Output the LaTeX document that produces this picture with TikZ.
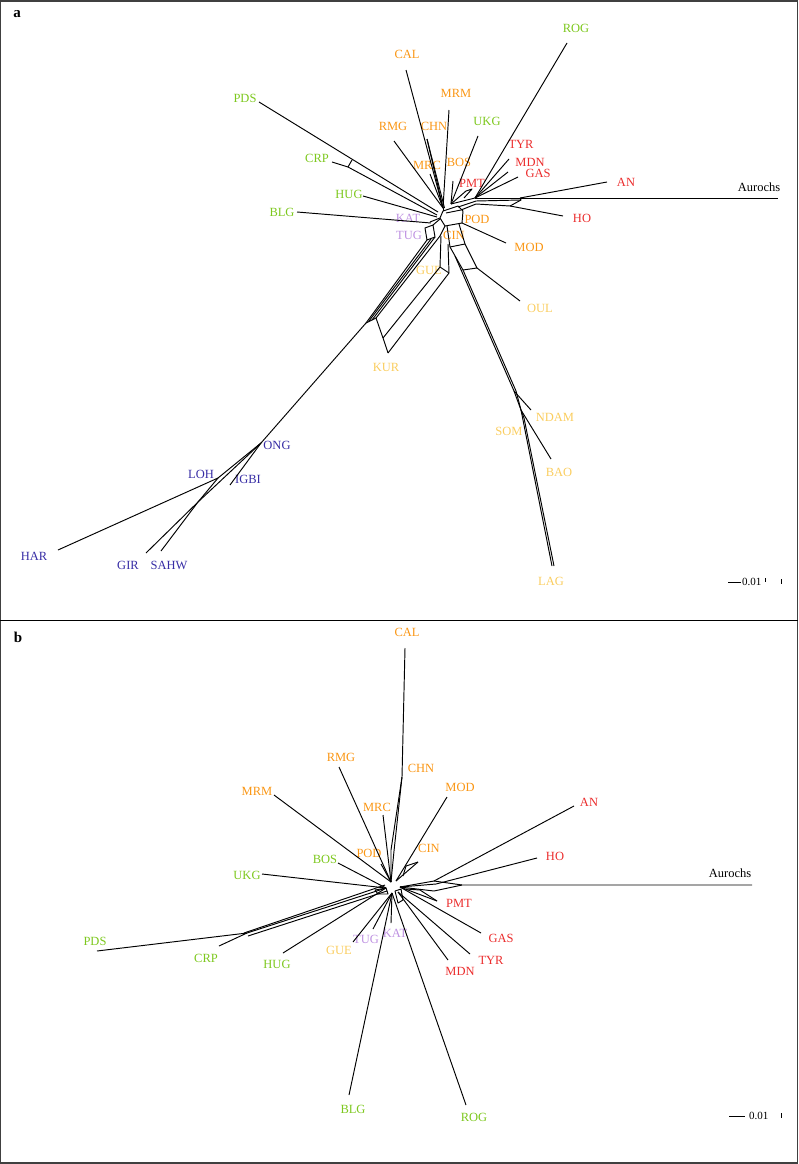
\documentclass[tikz,border=0pt]{standalone}
\usepackage{fontspec}
\setmainfont{Liberation Serif}
\usetikzlibrary{positioning}

\definecolor{taurgreen}{RGB}{125,200,30}
\definecolor{taurorange}{RGB}{250,150,20}
\definecolor{taurred}{RGB}{235,45,45}
\definecolor{taurlilac}{RGB}{190,145,225}
\definecolor{zebugold}{RGB}{250,205,95}
\definecolor{zebublue}{RGB}{55,45,165}

\begin{document}
\begin{tikzpicture}[x=1pt, y=-1pt,
    br/.style={line width=0.95pt, line join=round},
    lab/.style={font=\fontsize{12.5}{14}\selectfont, inner sep=0pt},
    grn/.style={lab, text=taurgreen},
    org/.style={lab, text=taurorange},
    rd/.style={lab, text=taurred},
    lil/.style={lab, text=taurlilac},
    gld/.style={lab, text=zebugold},
    blu/.style={lab, text=zebublue},
    tag/.style={font=\bfseries\fontsize{15}{16}\selectfont, inner sep=0pt},
    scl/.style={font=\fontsize{11}{12}\selectfont, inner sep=0pt}]
    \useasboundingbox (0,0) rectangle (799,1164);

    % Frame and panel divider
    \draw[line width=1.4pt, black!75] (0.7,1.2) rectangle (797.6,1162.8);
    \draw[line width=1pt] (0,620) -- (798,620);

    % ================= Panel a =================
    \node[tag] (tagA) at (17,14) {a};

    % Labels
    \node[grn] (aROG) at (576,28) {ROG};
    \node[org] (aCAL) at (407,54) {CAL};
    \node[org] (aMRM) at (456,93) {MRM};
    \node[grn] (aPDS) at (245,98) {PDS};
    \node[grn] (aUKG) at (487,121) {UKG};
    \node[org] (aRMG) at (393,126) {RMG};
    \node[org] (aCHN) at (434,126) {CHN};
    \node[rd]  (aTYR) at (521,144) {TYR};
    \node[grn] (aCRP) at (317,158) {CRP};
    \node[org] (aMRC) at (427,165) {MRC};
    \node[org] (aBOS) at (459,162) {BOS};
    \node[rd]  (aMDN) at (530,162) {MDN};
    \node[rd]  (aGAS) at (538,173) {GAS};
    \node[rd]  (aPMT) at (472,183) {PMT};
    \node[rd]  (aAN) at (626,182) {AN};
    \node[lab] (aAUR) at (759,187) {Aurochs};
    \node[grn] (aHUG) at (349,194) {HUG};
    \node[grn] (aBLG) at (282,212) {BLG};
    \node[rd]  (aHO) at (582,218) {HO};
    \node[lil] (aKAT) at (408,218) {KAT};
    \node[org] (aPOD) at (477,219) {POD};
    \node[lil] (aTUG) at (409,235) {TUG};
    \node[org] (aCIN) at (454,235) {CIN};
    \node[org] (aMOD) at (529,247) {MOD};
    \node[gld] (aGUE) at (429,270) {GUE};
    \node[gld] (aOUL) at (540,308) {OUL};
    \node[gld] (aKUR) at (386,367) {KUR};
    \node[gld] (aNDAM) at (555,417) {NDAM};
    \node[gld] (aSOM) at (509,431) {SOM};
    \node[blu] (aONG) at (277,445) {ONG};
    \node[gld] (aBAO) at (559,472) {BAO};
    \node[blu] (aLOH) at (201,474) {LOH};
    \node[blu] (aIGBI) at (248,479) {IGBI};
    \node[blu] (aHAR) at (34,556) {HAR};
    \node[blu] (aGIR) at (128,565) {GIR};
    \node[blu] (aSAHW) at (169,565) {SAHW};
    \node[gld] (aLAG) at (551,581) {LAG};

    % Junctions
    \coordinate (aHub) at (443,208);
    \coordinate (aHubR) at (451,204);
    \coordinate (aTopR) at (475,198);
    \coordinate (aANj) at (520,198);
    \coordinate (aHOj) at (510,206);
    \coordinate (aCRPj) at (348,167);
    \coordinate (aZj) at (366,323);
    \coordinate (aKURj) at (376,318);
    \coordinate (aSOMj) at (514,391);
    \coordinate (aONGj) at (261,443);
    \coordinate (aLOHj) at (218,478);
    \coordinate (aSj) at (198,502);

    % Tips
    \coordinate (aCALt) at (406,70);
    \coordinate (aCHNt) at (427,139);
    \coordinate (aMRMt) at (449,110);
    \coordinate (aRMGt) at (394,141);
    \coordinate (aMRCt) at (430,174);
    \coordinate (aBOSt) at (453,181);
    \coordinate (aUKGt) at (478,136);
    \coordinate (aPMTt) at (466,191);
    \coordinate (aROGt) at (567,43);
    \coordinate (aTYRt) at (509,159);
    \coordinate (aMDNt) at (508,172);
    \coordinate (aGASt) at (518,177);
    \coordinate (aANt) at (607,182);
    \coordinate (aAURt) at (778,198);
    \coordinate (aHOt) at (563,216);
    \coordinate (aMODt) at (506,243);
    \coordinate (aPDSt) at (259,102);
    \coordinate (aCRPt) at (332,162);
    \coordinate (aHUGt) at (363,196);
    \coordinate (aBLGt) at (297,212);
    \coordinate (aKATt) at (430,222);
    \coordinate (aOULt) at (520,301);
    \coordinate (aKURt) at (388,353);
    \coordinate (aNDAMt) at (531,410);
    \coordinate (aBAOt) at (551,459);
    \coordinate (aLAGt) at (554,566);
    \coordinate (aHARt) at (58,550);
    \coordinate (aGIRt) at (146,553);
    \coordinate (aSAHWt) at (161,551);
    \coordinate (aIGBIt) at (230,485);

    % Upper fan
    \draw[br] (aCALt) -- (aHub);
    \draw[br] (aCHNt) -- (aHub);
    \draw[br] (aCHNt) -- ([xshift=1.5pt]aHub);
    \draw[br] (aMRMt) -- (aHub);
    \draw[br] (aRMGt) -- (aHub);
    \draw[br] (aMRCt) -- (aHub);
    \draw[br] (aBOSt) -- (aHubR);
    \draw[br] (aUKGt) -- (aHubR);
    \draw[br] (aPMTt) -- (aHubR);
    \draw[br] (aPMTt) -- (472,189) -- (464,198);
    \draw[br] (aROGt) -- (aTopR);
    \draw[br] (aTYRt) -- (aTopR);
    \draw[br] (aMDNt) -- (aTopR);
    \draw[br] (aGASt) -- (aTopR);
    \draw[br] (aHubR) -- (aTopR);
    \draw[br] (458,207) -- (476,201);
    \draw[br] (461,210) -- (476,204);

    % Right band: AN, Aurochs, HO
    \draw[br] (aTopR) -- (aAURt);
    \draw[br] (476,201) -- (521,200);
    \draw[br] (476,204) -- (aHOj);
    \draw[br] (aHOj) -- (521,200) -- (aANj);
    \draw[br] (aANj) -- (aANt);
    \draw[br] (aHOj) -- (aHOt);

    % Central box
    \draw[br] (443,211) -- (458,206) -- (463,211) -- (462,223) -- (445,226) -- (440,218) -- cycle;
    \draw[br] (446,213) -- (461,210);
    \draw[br] (aHub) -- (443,211);
    \draw[br] (462,223) -- (aMODt);
    \draw[br] (aKATt) -- (440,218);

    % Left fan
    \draw[br] (aPDSt) -- (438,212);
    \draw[br] (aCRPt) -- (aCRPj) -- (437,215);
    \draw[br] (aCRPj) -- (352,160);
    \draw[br] (aHUGt) -- (437,217);
    \draw[br] (aBLGt) -- (431,223);

    % TUG box and zebu bundle
    \draw[br] (425,228) -- (433,225) -- (435,237) -- (427,240) -- cycle;
    \draw[br] (433,225) -- (440,219);
    \draw[br] (427,240) -- (aZj);
    \draw[br] (431,239) -- (369,321);
    \draw[br] (435,237) -- (372,320);
    \draw[br] (445,226) -- (440,236) -- (aKURj);
    \draw[br] (aZj) -- (aKURj);

    % KUR box
    \draw[br] (aKURj) -- (383,338) -- (aKURt);
    \draw[br] (383,338) -- (440,267) -- (441,236);
    \draw[br] (aKURt) -- (449,273) -- (448,244);
    \draw[br] (440,267) -- (449,273);

    % OUL box
    \draw[br] (447,226) -- (450,247) -- (463,270) -- (477,268) -- (465,244) -- (459,224);
    \draw[br] (450,247) -- (465,244);
    \draw[br] (477,268) -- (aOULt);

    % Southern branch to SOM, NDAM, BAO, LAG
    \draw[br] (455,256) -- (aSOMj);
    \draw[br] (463,270) -- (516,391);
    \draw[br] (aSOMj) -- (aNDAMt);
    \draw[br] (aSOMj) -- (521,410) -- (aBAOt);
    \draw[br] (516,391) -- (521,410) -- (524,418) -- (aLAGt);
    \draw[br] (521,410) -- (552,566);

    % African zebu
    \draw[br] (aZj) -- (aONGj);
    \draw[br] (aONGj) -- (aLOHj) -- (aHARt);
    \draw[br] (aONGj) -- (aIGBIt);
    \draw[br] (aONGj) -- (aSj);
    \draw[br] (aLOHj) -- (aSj);
    \draw[br] (aSj) -- (aGIRt);
    \draw[br] (aSj) -- (aSAHWt);

    % Scale bar a
    \coordinate (aBarL) at (728,582);
    \coordinate (aBarR) at (741,582);
    \draw[br] (aBarL) -- (aBarR);
    \node[scl, right=1pt of aBarR] (aBarTxt) {0.01};
    \draw[br] (765,578) -- (765,582);
    \draw[br] (781,579) -- (781,584);

    % ================= Panel b =================
    \node[tag] (tagB) at (18,637) {b};

    % Labels
    \node[org] (bCAL) at (407,632) {CAL};
    \node[org] (bRMG) at (341,757) {RMG};
    \node[org] (bCHN) at (421,768) {CHN};
    \node[org] (bMOD) at (460,787) {MOD};
    \node[org] (bMRM) at (257,791) {MRM};
    \node[rd]  (bAN) at (589,802) {AN};
    \node[org] (bMRC) at (377,807) {MRC};
    \node[org] (bCIN) at (429,848) {CIN};
    \node[org] (bPOD) at (369,853) {POD};
    \node[rd]  (bHO) at (555,856) {HO};
    \node[grn] (bBOS) at (325,859) {BOS};
    \node[lab] (bAUR) at (730,873) {Aurochs};
    \node[grn] (bUKG) at (247,875) {UKG};
    \node[rd]  (bPMT) at (459,903) {PMT};
    \node[lil] (bKAT) at (395,933) {KAT};
    \node[rd]  (bGAS) at (501,938) {GAS};
    \node[lil] (bTUG) at (366,939) {TUG};
    \node[grn] (bPDS) at (95,941) {PDS};
    \node[gld] (bGUE) at (339,950) {GUE};
    \node[grn] (bCRP) at (206,958) {CRP};
    \node[rd]  (bTYR) at (491,960) {TYR};
    \node[grn] (bHUG) at (277,964) {HUG};
    \node[rd]  (bMDN) at (460,971) {MDN};
    \node[grn] (bBLG) at (353,1109) {BLG};
    \node[grn] (bROG) at (474,1117) {ROG};

    % Junctions
    \coordinate (bHubN) at (391,882);
    \coordinate (bHubNE) at (396,881);
    \coordinate (bHubE) at (400,887);
    \coordinate (bHubSE) at (398,892);
    \coordinate (bHubS) at (392,893);
    \coordinate (bHubW) at (386,888);
    \coordinate (bANj) at (434,881);
    \coordinate (bHOj) at (436,884);
    \coordinate (bAURj) at (462,885);
    \coordinate (bPDSj) at (247,933);

    % Tips
    \coordinate (bCALt) at (405,648);
    \coordinate (bCHNt) at (402,777);
    \coordinate (bRMGt) at (339,767);
    \coordinate (bMRMt) at (274,795);
    \coordinate (bMRCt) at (383,815);
    \coordinate (bPODt) at (381,864);
    \coordinate (bMODt) at (447,797);
    \coordinate (bCINt) at (418,862);
    \coordinate (bANt) at (574,806);
    \coordinate (bHOt) at (537,858);
    \coordinate (bAURt) at (752,885);
    \coordinate (bPMTt) at (437,901);
    \coordinate (bGASt) at (481,933);
    \coordinate (bTYRt) at (470,954);
    \coordinate (bMDNt) at (448,960);
    \coordinate (bROGt) at (466,1105);
    \coordinate (bKATt) at (391,923);
    \coordinate (bBLGt) at (349,1095);
    \coordinate (bTUGt) at (373,929);
    \coordinate (bGUEt) at (353,942);
    \coordinate (bHUGt) at (283,953);
    \coordinate (bCRPt) at (219,946);
    \coordinate (bPDSt) at (97,951);
    \coordinate (bUKGt) at (262,874);
    \coordinate (bBOSt) at (338,863);

    % Northern fan
    \draw[br] (bCALt) -- (bCHNt) -- (391,850) -- (bHubN);
    \draw[br] (bCHNt) -- (394,851) -- (bHubN);
    \draw[br] (bRMGt) -- (bHubN);
    \draw[br] (bMRMt) -- (bHubN);
    \draw[br] (bMRCt) -- (bHubN);
    \draw[br] (bPODt) -- (bHubN);
    \draw[br] (bMODt) -- (bHubNE);
    \draw[br] (bCINt) -- (bHubNE);
    \draw[br] (bCINt) -- (406,866) -- (403,876);

    % Eastern fan
    \draw[br] (bANt) -- (bANj) -- (bHubE);
    \draw[br] (bHOt) -- (bHOj) -- (bHubE);
    \draw[br] (bAURt) -- (bAURj) -- (bANj);
    \draw[br] (bAURj) -- (434,891) -- (bHubE);
    \draw[br] (bPMTt) -- (bHubE);
    \draw[br] (bPMTt) -- (420,890) -- (406,889);
    \draw[br] (bGASt) -- (bHubE);

    % Southern fan
    \draw[br] (bTYRt) -- (bHubSE);
    \draw[br] (bMDNt) -- (bHubSE);
    \draw[br] (bROGt) -- (bHubS);
    \draw[br] (bKATt) -- (bHubS);
    \draw[br] (bBLGt) -- (bHubS);
    \draw[br] (bTUGt) -- (bHubS);
    \draw[br] (bGUEt) -- (bHubS);
    \draw[br] (395,891) -- (401,889) -- (403,900) -- (398,903) -- cycle;

    % Western fan
    \draw[br] (bHUGt) -- (bHubW);
    \draw[br] (bPDSt) -- (bPDSj);
    \draw[br] (bCRPt) -- (bPDSj);
    \draw[br] (bPDSj) -- (bHubW);
    \draw[br] (248,936) -- (387,891);
    \draw[br] (244,933) -- (385,885);
    \draw[br] (bUKGt) -- (bHubW);
    \draw[br] (bBOSt) -- (bHubW);
    \draw[br] (375,890) -- (386,888) -- (388,894) -- (378,894) -- cycle;

    % Scale bar b
    \coordinate (bBarL) at (729,1116);
    \coordinate (bBarR) at (745,1116);
    \draw[br] (bBarL) -- (bBarR);
    \node[scl, right=4pt of bBarR] (bBarTxt) {0.01};
    \draw[br] (781,1113) -- (781,1118);
\end{tikzpicture}
\end{document}
